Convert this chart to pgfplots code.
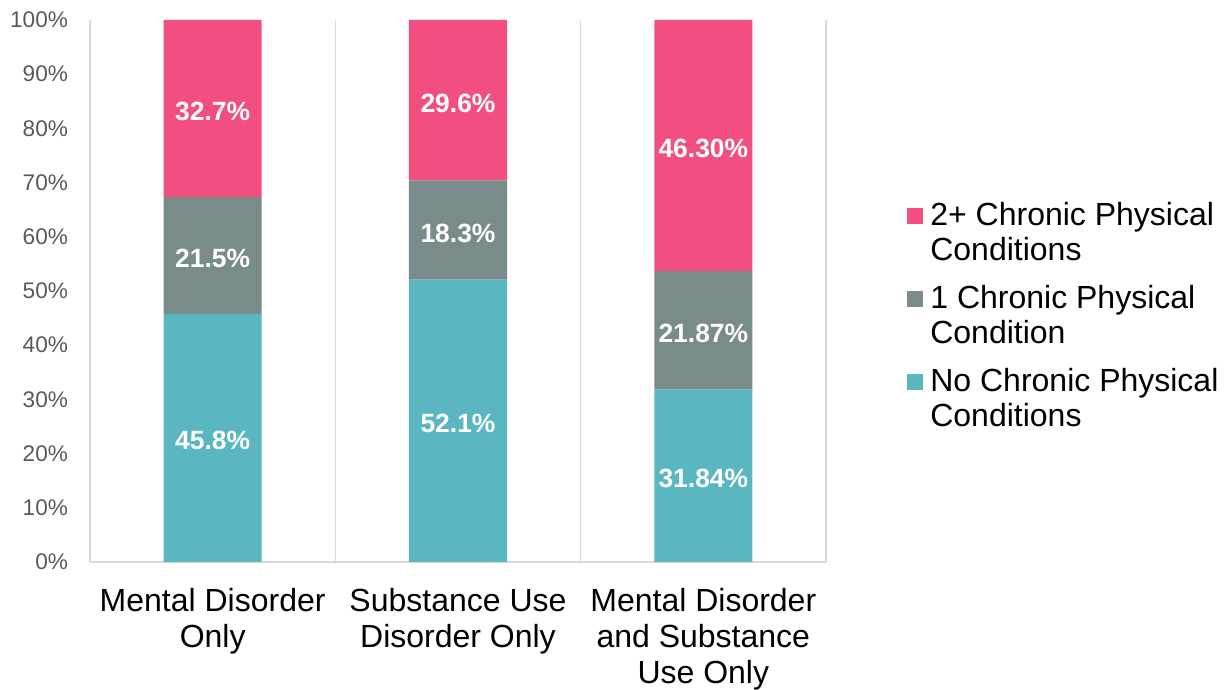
\documentclass[border=0pt]{standalone}
\usepackage{fontspec}
\setmainfont{Liberation Sans}
\usepackage{pgfplots}
\pgfplotsset{compat=1.18}
\definecolor{cpink}{HTML}{F34E80}
\definecolor{cgray}{HTML}{7A8B8B}
\definecolor{cteal}{HTML}{5AB6C0}
\definecolor{gridgray}{HTML}{D9D9D9}
\definecolor{tickgray}{HTML}{595959}
\tikzset{lbl/.style={text=white, yshift=-1.5pt, font=\bfseries\fontsize{13.2}{15}\selectfont}}
\pgfplotsset{sqlegend/.style={legend image code/.code={%
  \path[draw=none, fill=none] (0pt,-12.5pt) rectangle (8pt,12.5pt);
  \fill[##1] (0pt,4.5pt) rectangle (8pt,12.5pt);}}}
\begin{document}
\begin{tikzpicture}
\begin{axis}[
  scale only axis, width=368pt, height=271pt,
  ybar stacked, bar width=0.4,
  xmin=-0.5, xmax=2.5, ymin=0, ymax=100,
  xtick={0,1,2},
  xticklabels={{Mental Disorder\\Only}, {Substance Use\\Disorder Only}, {Mental Disorder\\and Substance\\Use Only}},
  xticklabel style={align=center, font=\fontsize{16}{18}\selectfont, text=black, anchor=north, yshift=-9.5pt},
  ytick={0,10,...,100},
  yticklabels={0\%,10\%,20\%,30\%,40\%,50\%,60\%,70\%,80\%,90\%,100\%},
  yticklabel style={font=\fontsize{11.3}{13}\selectfont, text=tickgray, xshift=-7.5pt},
  major tick length=0pt,
  axis x line*=bottom, axis y line*=left,
  axis line style={draw=gridgray, line width=0.75pt, -},
  extra x ticks={0.5,1.5,2.5}, extra x tick labels={},
  extra x tick style={grid=major, major grid style={draw=gridgray, line width=0.75pt}},
  reverse legend,
  legend cell align=left,
  legend style={at={(1.11,0.672)}, anchor=north west, draw=none, fill=none, inner sep=0pt,
    font=\fontsize{16}{17.5}\selectfont, nodes={align=left}, row sep=7pt, column sep=1.5pt},
  sqlegend,
]
\addplot[fill=cteal, draw=none] coordinates {(0,45.8) (1,52.1) (2,31.84)};
\addlegendentry{No Chronic Physical\\Conditions}
\addplot[fill=cgray, draw=none] coordinates {(0,21.5) (1,18.3) (2,21.87)};
\addlegendentry{1 Chronic Physical\\Condition}
\addplot[fill=cpink, draw=none] coordinates {(0,32.7) (1,29.6) (2,46.29)};
\addlegendentry{2+ Chronic Physical\\Conditions}
\coordinate (a1) at (axis cs:0,22.9);
\coordinate (a2) at (axis cs:0,56.55);
\coordinate (a3) at (axis cs:0,83.65);
\coordinate (b1) at (axis cs:1,26.05);
\coordinate (b2) at (axis cs:1,61.25);
\coordinate (b3) at (axis cs:1,85.2);
\coordinate (c1) at (axis cs:2,15.92);
\coordinate (c2) at (axis cs:2,42.78);
\coordinate (c3) at (axis cs:2,76.86);
\end{axis}
\node[lbl] at (a1) {45.8\%};
\node[lbl] at (a2) {21.5\%};
\node[lbl] at (a3) {32.7\%};
\node[lbl] at (b1) {52.1\%};
\node[lbl] at (b2) {18.3\%};
\node[lbl] at (b3) {29.6\%};
\node[lbl] at (c1) {31.84\%};
\node[lbl] at (c2) {21.87\%};
\node[lbl] at (c3) {46.30\%};
\pgfresetboundingbox
\path (-45pt,-64pt) rectangle (569pt,281pt);
\end{tikzpicture}
\end{document}
